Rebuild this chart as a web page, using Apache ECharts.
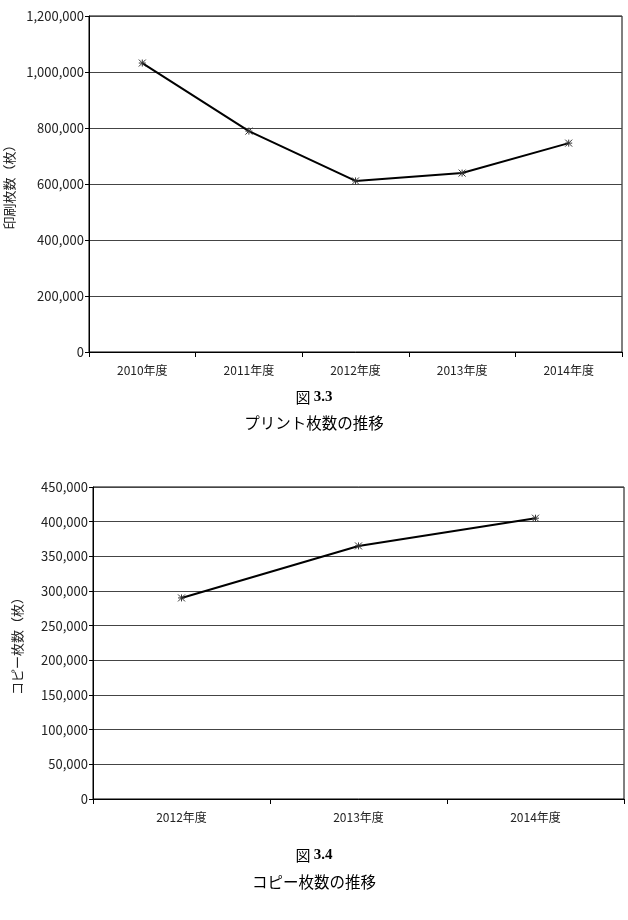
<!DOCTYPE html>
<html><head><meta charset="utf-8">
<script src="https://cdn.jsdelivr.net/npm/echarts@6/dist/echarts.min.js"></script>
<style>html,body{margin:0;padding:0;background:#fff}#c{width:628px;height:920px}</style>
</head><body><div id="c"></div>
<script>
const printCategories = ['2010年度','2011年度','2012年度','2013年度','2014年度'];
const printValues = [1032000, 789000, 611000, 639000, 746000];
const copyCategories = ['2012年度','2013年度','2014年度'];
const copyValues = [290000, 365000, 405000];
const printTicks = {min:0, max:1200000, interval:200000};
const copyTicks = {min:0, max:450000, interval:50000};

const FONT = '"Noto Sans CJK JP","Noto Sans",sans-serif';
const star = 'path://M0,0L10,10M10,0L0,10M5,0L5,10M0,5L10,5';
const fmt = v => v.toLocaleString('en-US');

function xAxis(idx, cats){
  return {type:'category', gridIndex:idx, data:cats, boundaryGap:true,
    axisLine:{lineStyle:{color:'#000',width:1}},
    axisTick:{show:true, length:5, lineStyle:{color:'#000'}},
    axisLabel:{color:'#222', fontSize:12, fontFamily:FONT, margin:12}};
}
function yAxis(idx, t, name, gap){
  return {type:'value', gridIndex:idx, min:t.min, max:t.max, interval:t.interval,
    name:name, nameLocation:'middle', nameGap:gap, nameRotate:90,
    nameTextStyle:{color:'#222', fontSize:13, fontFamily:FONT},
    axisLine:{show:true, lineStyle:{color:'#000'}},
    axisTick:{show:true, length:4, lineStyle:{color:'#000'}},
    axisLabel:{color:'#222', fontSize:13, fontFamily:FONT, margin:5, formatter:fmt},
    splitLine:{show:true, lineStyle:{color:'#444', width:1.2}}};
}
function lineSeries(idx, vals){
  return {type:'line', xAxisIndex:idx, yAxisIndex:idx, data:vals,
    lineStyle:{color:'#000', width:2}, symbol:star, symbolSize:7,
    itemStyle:{color:'transparent', borderColor:'#333', borderWidth:1},
    emphasis:{disabled:true}, animation:false};
}
const chart = echarts.init(document.getElementById('c'));
chart.setOption({
  animation:false,
  grid:[
    {left:89, top:16, width:533, height:336, show:true, borderColor:'#000', borderWidth:1, outerBoundsMode:'none', containLabel:false},
    {left:93, top:487, width:531, height:312, show:true, borderColor:'#000', borderWidth:1, outerBoundsMode:'none', containLabel:false}
  ],
  xAxis:[xAxis(0, printCategories), xAxis(1, copyCategories)],
  yAxis:[yAxis(0, printTicks, '印刷枚数（枚）', 67), yAxis(1, copyTicks, 'コピー枚数（枚）', 69)],
  series:[lineSeries(0, printValues), lineSeries(1, copyValues)],
  graphic:[
    {type:'text', left:'center', top:390, style:{rich:{a:{fontSize:15,fontFamily:'"Noto Sans CJK JP"',fill:'#000'},b:{fontSize:15,fontFamily:'"Liberation Serif"',fontWeight:'bold',fill:'#000'}}, text:'{a|図 }{b|3.3}'}},
    {type:'text', left:'center', top:415, style:{text:'プリント枚数の推移', fontSize:15.5, fontFamily:'"Noto Sans CJK JP"', fill:'#000'}},
    {type:'text', left:'center', top:848, style:{rich:{a:{fontSize:15,fontFamily:'"Noto Sans CJK JP"',fill:'#000'},b:{fontSize:15,fontFamily:'"Liberation Serif"',fontWeight:'bold',fill:'#000'}}, text:'{a|図 }{b|3.4}'}},
    {type:'text', left:'center', top:874, style:{text:'コピー枚数の推移', fontSize:15.5, fontFamily:'"Noto Sans CJK JP"', fill:'#000'}}
  ]
});
</script></body></html>
